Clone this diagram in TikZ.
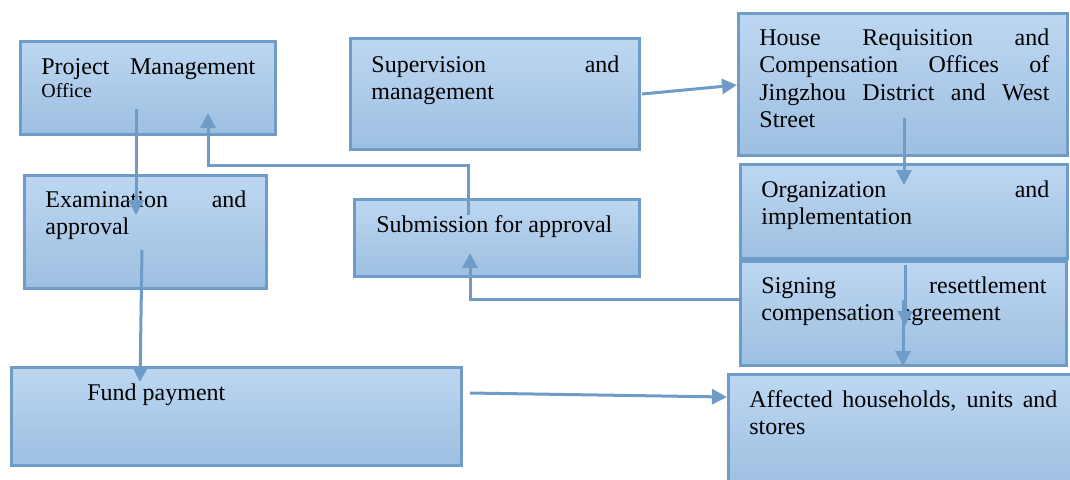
\documentclass[tikz,border=0pt]{standalone}
\usepackage{fontspec}
\setmainfont{Liberation Serif}
\usetikzlibrary{arrows.meta}
\definecolor{boxline}{HTML}{6F9BC7}
\definecolor{boxtop}{HTML}{BDD7F1}
\definecolor{boxbot}{HTML}{9DBFE1}
\tolerance=10000
\hyphenpenalty=10000
\tikzset{
  box/.style={draw=boxline,line width=1.5pt,top color=boxtop,bottom color=boxbot,rectangle,inner sep=0pt},
  txt/.style={anchor=base west,inner sep=0pt,align=justify,font=\fontsize{12}{13.8}\selectfont},
  arr/.style={draw=boxline,line width=1.5pt,-{Triangle[length=7.5pt,width=7.5pt]}}
}
\begin{document}
\begin{tikzpicture}[x=0.5pt,y=-0.5pt]
\clip (0,0) rectangle (1070,479);

\node [box,minimum width=127.5pt,minimum height=46.5pt] (pmo) at(148,88){};
\node [box,minimum width=121pt,minimum height=56.5pt] (exam) at(145.5,232){};
\node [box,minimum width=144.5pt,minimum height=55.5pt] (superv) at(495,94){};
\node [box,minimum width=142.5pt,minimum height=38.5pt] (submit) at(497,238){};
\node [box,minimum width=164.5pt,minimum height=71pt] (house) at(903,84.5){};
\node [box,minimum width=163.5pt,minimum height=47pt] (organ) at(904,211.5){};
\node [box,minimum width=163pt,minimum height=52pt] (sign) at(903.5,313.5){};
\node [box,minimum width=177.5pt,minimum height=57pt] (affect) at(906,431.5){};
\node [box,minimum width=225pt,minimum height=49pt] (fund) at(236.5,416.5){};

\node [txt,text width=107pt] (pmo-t) at(41,74){Project Management {\fontsize{10}{11.5}\selectfont Office\par}};
\node [txt,text width=100.5pt] (exam-t) at(45,207){Examination and approval};
\node [txt,text width=124pt] (superv-t) at(371,72){Supervision and management};
\node [txt] (submit-t) at(376,232){Submission for approval};
\node [txt,text width=145pt] (house-t) at(759,45){House Requisition and Compensation Offices of Jingzhou District and West Street};
\node [txt,text width=144pt] (organ-t) at(761,197){Organization and implementation};
\node [txt,text width=142.5pt] (sign-t) at(761,293){Signing resettlement compensation agreement};
\node [txt,text width=154pt] (affect-t) at(749,407){Affected households, units and stores};
\node [txt] (fund-t) at(87,400){Fund payment};

%arrow ends
\coordinate (pmo-out) at(136,109);
\coordinate (exam-in) at(136,215);
\coordinate (exam-out) at(142,250);
\coordinate (fund-in) at(140,382);
\coordinate (submit-out) at(468,215);
\coordinate (pmo-in) at(208,113);
\coordinate (superv-out) at(642,94);
\coordinate (house-in) at(737,85);
\coordinate (house-out) at(904,118);
\coordinate (organ-in) at(904,185);
\coordinate (organ-out) at(905,265);
\coordinate (sign-in) at(905,326);
\coordinate (sign-out) at(903,300);
\coordinate (affect-in) at(903,366);
\coordinate (sign-back) at(739,299);
\coordinate (submit-in) at(470,253);
\coordinate (fund-out) at(470,393);
\coordinate (affect-left) at(727,397);

\draw[arr](pmo-out) -- (exam-in);
\draw[arr](exam-out) -- (fund-in);
\draw[arr](submit-out) -- ++(0,-50) -| (pmo-in);
\draw[arr](superv-out) -- (house-in);
\draw[arr](house-out) -- (organ-in);
\draw[arr](organ-out) -- (sign-in);
\draw[arr](sign-out) -- (affect-in);
\draw[arr](sign-back) -| (submit-in);
\draw[arr](fund-out) -- (affect-left);

\end{tikzpicture}
\end{document}
